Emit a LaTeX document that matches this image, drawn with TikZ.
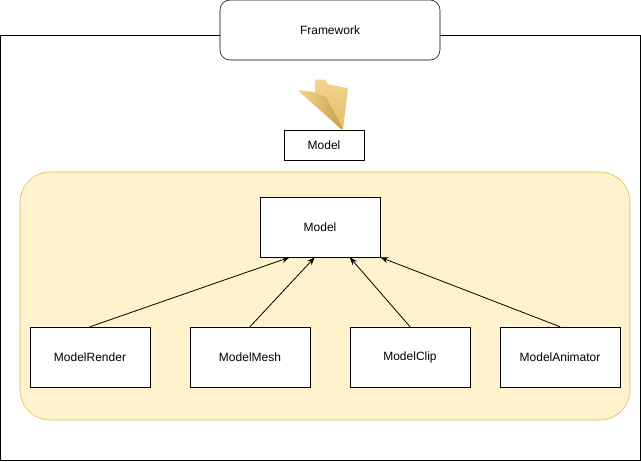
\documentclass[tikz,border=0pt]{standalone}
\usepackage{fontspec}
\setmainfont{Liberation Sans}
\usetikzlibrary{arrows.meta}
\definecolor{panelfill}{HTML}{FFF2CC}
\definecolor{paneldraw}{HTML}{D6B656}
\definecolor{folderback}{HTML}{E3BD66}
\definecolor{folderfront}{HTML}{F2D590}
\definecolor{foldershade}{HTML}{C99F45}
\begin{document}
\begin{tikzpicture}[x=0.75pt, y=-0.75pt,
    box/.style = {draw, fill=white, minimum width=90pt, minimum height=45pt, inner sep=0pt, font=\fontsize{9}{11}\selectfont},
    small/.style = {box, minimum width=60pt, minimum height=22.5pt},
    link/.style = {-{Stealth[length=6pt, width=4.5pt]}, semithick}]
    \useasboundingbox (0,0) rectangle (641,461);
    % frame and title
    \draw (0.5,35) rectangle (640,460);
    \node[box, rounded corners=7.5pt, minimum width=165pt] (fw) at (330,30) {Framework};
    % folder icon
    \shade[top color=folderfront, bottom color=folderback] (315,96) -- (315,81) -- (316,79.5) -- (325,79.5) -- (327.5,84) -- (347,88) -- (348,89.5) -- (343,129) -- cycle;
    \shade[shading angle=135, left color=folderfront, right color=foldershade] (299,90) -- (313,92) -- (326,97) -- (343,129) -- (341,129) .. controls (322,112) .. (299,91.5) -- cycle;
    \node[small] (pkg) at (324,145) {Model};
    % container
    \draw[paneldraw, fill=panelfill, rounded corners=22.5pt] (20,172) rectangle (630,420);
    \node[box] (model) at (320,227) {Model};
    \node[box] (render) at (90,357) {ModelRender};
    \node[box] (mesh) at (250,357) {ModelMesh};
    \node[box] (clip) at (410,357) {ModelClip};
    \node[box] (anim) at (560,357) {ModelAnimator};
    \draw[link] (render.north) -- ([xshift=22.5pt]model.south west);
    \draw[link] (mesh.north) -- ([xshift=41.25pt]model.south west);
    \draw[link] (clip.north) -- ([xshift=67.5pt]model.south west);
    \draw[link] (anim.north) -- (model.south east);
\end{tikzpicture}
\end{document}
